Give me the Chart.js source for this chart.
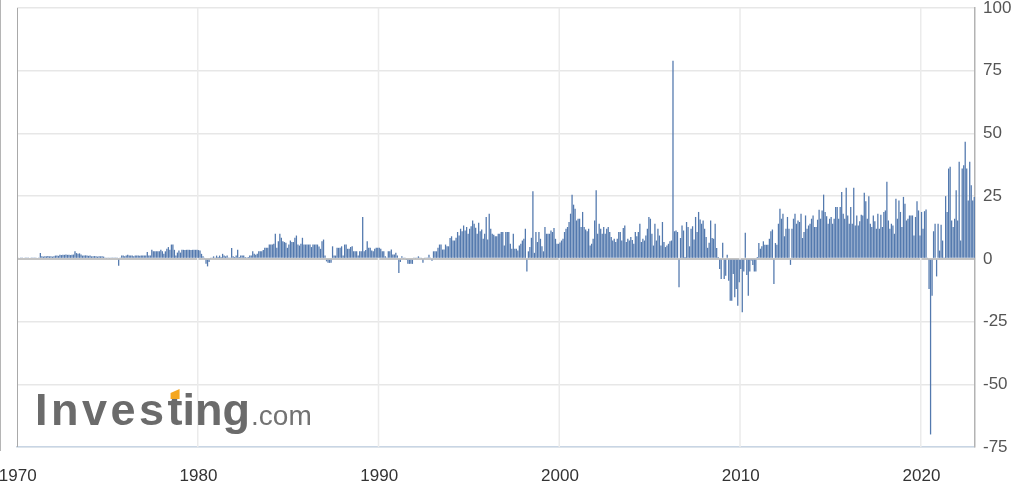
<!DOCTYPE html>
<html>
<head>
<meta charset="utf-8">
<script src="https://cdn.jsdelivr.net/npm/chart.js@4.4.1/dist/chart.umd.min.js"></script>
<style>
html,body{margin:0;padding:0;background:#fff;overflow:hidden}
canvas{display:block}
</style>
</head>
<body>
<canvas id="c" width="1025" height="492"></canvas>
<script>
// Monthly values (Jan 1970 .. Dec 2022)
const seg1970s = [0.3,0.4,0.3,0.3,0.4,0.3,0.3,0.3,0.4,0.3,0.3,0.3,0.3,0.4,0.3,
 2.3,
 1.0,0.9,1.0,1.0,1.1,1.0,1.0,0.9,1.0,
 1.3,1.3,1.2,
 1.6,1.5,1.6,1.6,1.7,1.6,1.6,1.5,1.6,1.7,
 3.0,2.3,2.0,2.2,1.7,
 1.3,1.3,1.4,1.3,1.2,1.3,
 1.0,1.0,1.1,1.0,0.9,1.0,1.0,1.0,0.9,
 0.3,0.3,0.3,0.3,0.3,0.3,0.3,0.3,
 0.5,-2.7,0.3,1.3,
 1.3,1.0,1.3,1.6,1.3,1.3,1.3,1.0,1.3,
 1.3,1.3,1.2,1.3,1.3,1.3,1.3,
 2.7,1.3,1.3,3.6,3.0,3.0,3.0,3.0,3.0,3.6,3.0,2.0,3.0,4.0,4.7,3.6,5.7,5.7,3.6,1.3,2.5,3.3,2.5,3.6,
 3.6,3.5,3.6,3.6,3.6,3.5,3.6,3.6,3.6,3.6,3.5];
const seg1980s = [3.3,2,1,0.3,-2,-3,-1.3,0.3,0.5,1,
 0.3,1.3,0.7,1.3,0.7,2,1.3,1,1.3,0.5,
 0.3,4.3,1,0.7,1.3,3.6,0.7,1.3,1.3,1.3,
 0.7,0.3,0.7,1.3,1.3,3,2,1.6,2,3,
 3,3,3.5,4.4,4.4,4.4,5.7,5.7,5.7,6,
 10,4.4,7,10,8.4,7,6.7,6.4,4.4,5.7,
 7.3,6.7,6.7,8.4,9.3,5.7,5.3,6,8.4,5.7,
 5.7,5.7,5.7,5.7,4.7,5.7,5.7,5.7,5.7,4.9,
 4,7,7.7,1.3,-1,-1.6,-1.6,-1.6,5,1.3,
 1.3,4.4,4.4,4.4,5,1.3,5.7,5.7,4,4,
 4.7,5,3,3,3,1.3,3,3,16.7,3,
 3.5,7,4.4,4.4,3.3,3,4,4.4,4.4,4.4];
const seg1990s = [4,3,3,1,0.3,3,3,3.7,1.7,1.7,
 2.4,1.3,-5.6,-1.3,1,0.3,0.3,-0.3,-2,-2,
 -2,-2,0.3,0.3,0.5,1,0.5,0.3,-1.6,0.3,
 0.3,0.5,1.6,0.5,-0.8,3,3,3,4.4,5.7,
 5.7,3.7,3.7,5.7,5,5,8.3,9,7.3,7.3,
 8.4,10.7,9.3,12,11,13.3,11.3,12.7,10,12,
 13,
 15.3,14,12.4,10,14.4,11,11.7,8,10,16.7,
 7.7,18,12,10,9.6,9,9,10,10,10.7,
 10.7,5.3,10.7,10.7,10.7,6,4,10,4,4,
 3.3,5.3,6,7.3,8,12,-5,3,4.7,8.4,
 27,2.4,10.7,6.7,10.7,8,5,3,12.7,10,
 10,10,11.3,10.7,12.3,8,6,6,6.5,7.3];
const seg2000s = [8,10.7,12,12.7,14.7,18,25.6,21.6,20,15.3,
 16,16,12.7,18.7,12.7,11.7,11,12,5.3,6,
 8,15.3,27.3,10,14,12,10,12.7,10,12,
 12.7,10.7,8.7,7.3,8,6.7,8,10.7,10.7,7.3,
 12.3,13.3,6.7,8,7.3,8.7,7.5,6,10.7,9,
 10.7,14,6.7,8,7.3,9.3,12,16.7,16,10,
 5.3,14,7.3,12,9.3,5.3,14.7,6.7,4.7,5.3,
 6,7,7.3,79,11,11.3,10.7,-11.3,8.3,13.3,
 11.3,0.7,14.7,12.7,5,12,13,7.7,16.7,10.7,
 18.7,15.7,14,15.3,12,8.7,4.4,6.4,15.3,8.3,
 8,14,4.3,0.7,-4,-8,6.4,-8,-6.7,1.6,
 -8.7,-16.7,-16.7,-6,-15.3,-12,-18.7,-9.3,-4,-21.3];
const seg2010s = [-5,10.4,-6.4,-14.7,-5,-0.7,-2.4,-5,-5,0.7,
 6.3,4,5,7,5.6,5.6,5.6,8,11,11.7,
 -10,6.3,5.6,14,20,16,18,9,12,16.7,
 12,-2.4,12,16,18,14,15.3,14.7,18,8.3,
 10.7,17.3,12,13.3,14,16,17.3,12.7,12.7,15.6,
 19.6,16,19.3,25.6,18.7,17,14,16,16.7,14,
 16,20.7,20.7,16,20.7,26.7,18,16,28.3,17.3,
 14,20.7,14,28.3,13.3,17.3,13.3,15,17.6,17.3,
 26.4,23,16,25,14,12.7,17.3,15,12,18,
 12,17.6,12.7,18.7,19.3,30.7,15.3,12,14,13.3,
 10,24,16,23.3,18.7,12.7,24.7,22,15.3,16,
 17.3,17.3,17.3,9.3,16.7,23,19.3,9.3,18.7,12];
const seg2020s = [19,19.7,0.3,-12,-70,-14.7,11,14,-7,14,
 3.3,13.6,7.3,0.3,25,18.7,36,36.7,15.3,12.7,
 16,27.3,15.3,38.7,7.3,36,37.3,46.7,36,23.3,
 38.7,29.3,23.3,24.7];

const tickYears = ['1970','1980','1990','2000','2010','2020'];
const yTicks = [-75,-50,-25,0,25,50,75,100];
const firstYear = 1970, lastYear = 2022;

const categories = [];
for (let y = firstYear; y <= lastYear; y++) {
  for (let m = 1; m <= 12; m++) categories.push(y + '-' + String(m).padStart(2, '0'));
}
const values = [].concat(seg1970s, seg1980s, seg1990s, seg2000s, seg2010s, seg2020s);

const FAMILY = '"Liberation Sans", Arial, Helvetica, sans-serif';
const isDecadeStart = lab => lab.endsWith('-01') && tickYears.includes(lab.slice(0, 4));

const frame = {
  id: 'frame',
  beforeDatasetsDraw(chart) {
    const ctx = chart.ctx, a = chart.chartArea, xs = chart.scales.x;
    ctx.save();
    // decade grid lines (at the start of each decade's first month)
    const half = (xs.getPixelForValue(1) - xs.getPixelForValue(0)) / 2;
    ctx.strokeStyle = '#ebebeb';
    ctx.lineWidth = 1.5;
    categories.forEach((lab, i) => {
      if (!isDecadeStart(lab) || i === 0) return;
      const x = xs.getPixelForValue(i) - half;
      ctx.beginPath();
      ctx.moveTo(x, a.top);
      ctx.lineTo(x, a.bottom);
      ctx.stroke();
    });
    // watermark
    ctx.textBaseline = 'alphabetic';
    ctx.font = 'bold 45px ' + FAMILY;
    ctx.fillStyle = '#6b6b6b';
    try { ctx.letterSpacing = '3.5px'; } catch (e) {}
    ctx.fillText('Inves', 35, 425);
    const w1 = ctx.measureText('Inves').width;
    const tx = 35 + w1;
    try { ctx.letterSpacing = '0px'; } catch (e) {}
    ctx.fillText('ting', tx, 425);
    const w2 = ctx.measureText('ting').width;
    ctx.font = '28px ' + FAMILY;
    ctx.fillStyle = '#737373';
    ctx.fillText('.com', tx + w2 + 1, 425);
    // orange accent on top of the "t"
    ctx.fillStyle = '#f5a71f';
    ctx.beginPath();
    ctx.moveTo(tx + 3, 399);
    ctx.lineTo(tx + 12, 399);
    ctx.lineTo(tx + 12, 389);
    ctx.lineTo(tx + 3, 393);
    ctx.closePath();
    ctx.fill();
    ctx.restore();
  },
  afterDraw(chart) {
    const ctx = chart.ctx, a = chart.chartArea;
    ctx.save();
    ctx.strokeStyle = '#a9a9a9';
    ctx.lineWidth = 1;
    ctx.beginPath();
    ctx.moveTo(Math.round(a.left) + 0.5, a.top);
    ctx.lineTo(Math.round(a.left) + 0.5, a.bottom);
    ctx.stroke();
    ctx.strokeStyle = '#b5b5b5';
    ctx.beginPath();
    ctx.moveTo(0.5, 0);
    ctx.lineTo(0.5, a.bottom + 4);
    ctx.stroke();
    ctx.restore();
  }
};

new Chart(document.getElementById('c'), {
  type: 'bar',
  data: {
    labels: categories,
    datasets: [{
      data: values,
      backgroundColor: '#5379ae',
      borderWidth: 0,
      barPercentage: 0.85,
      categoryPercentage: 1.0
    }]
  },
  options: {
    responsive: false,
    animation: false,
    devicePixelRatio: 1,
    layout: { padding: { left: 17, top: 8, right: 0, bottom: 0 } },
    plugins: { legend: { display: false }, tooltip: { enabled: false } },
    scales: {
      x: {
        type: 'category',
        offset: true,
        grid: { offset: true, drawTicks: false, color: 'rgba(0,0,0,0)', lineWidth: 0 },
        border: { display: true, color: '#c8d5e4', width: 1.5 },
        ticks: {
          autoSkip: false, maxRotation: 0, minRotation: 0, padding: 19,
          color: '#333333', font: { size: 17, family: FAMILY },
          callback: function (val) {
            const lab = this.getLabelForValue(val);
            return isDecadeStart(lab) ? lab.slice(0, 4) : null;
          }
        },
        afterFit(s) { s.height = 45; s.paddingLeft = 0; s.paddingRight = 0; }
      },
      y: {
        position: 'right',
        min: -75, max: 100,
        afterBuildTicks(s) { s.ticks = yTicks.map(v => ({ value: v })); },
        ticks: { padding: 8, color: '#555555', font: { size: 17, family: FAMILY } },
        grid: {
          drawTicks: false,
          color: c => (c.tick && c.tick.value === 0) ? '#c4c4c4' : '#e7e7e7',
          lineWidth: c => (c.tick && c.tick.value === 0) ? 2 : 1.5
        },
        border: { display: true, color: '#b3b3b3', width: 1.5 },
        afterFit(s) { s.width = 50; s.paddingTop = 0; s.paddingBottom = 0; }
      }
    }
  },
  plugins: [frame]
});
</script>
</body>
</html>
